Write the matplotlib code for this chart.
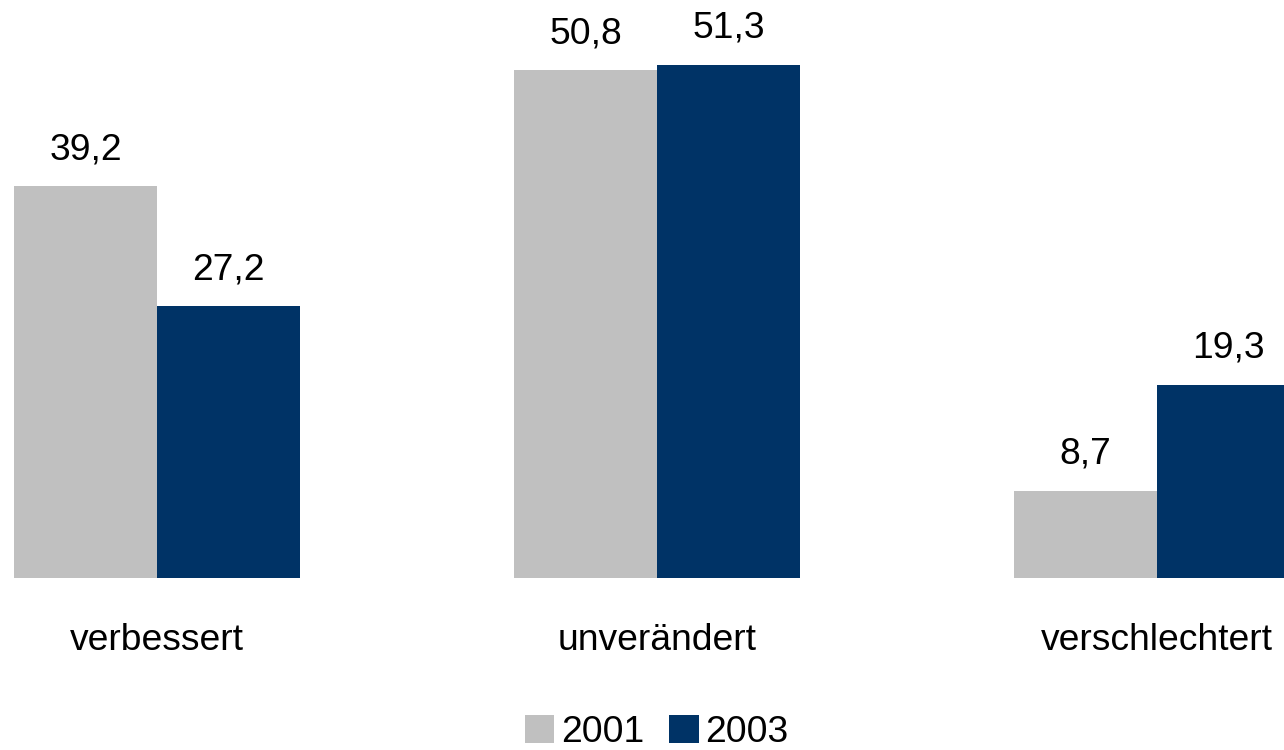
import matplotlib
matplotlib.use("Agg")
import matplotlib.pyplot as plt
from matplotlib.patches import Patch
import numpy as np

plt.rcParams['font.family'] = ['Liberation Sans', 'DejaVu Sans']

categories = ["verbessert", "unverändert", "verschlechtert"]
years = ["2001", "2003"]
v2001 = [39.2, 50.8, 8.7]
v2003 = [27.2, 51.3, 19.3]
colors = ["#C0C0C0", "#003366"]

fs = 26.8
fig = plt.figure(figsize=(12.84, 7.5), dpi=100)
ax = fig.add_axes([0, 172/750, 1, 578/750])

x = np.arange(len(categories))
w = 0.286
for k, vals in enumerate([v2001, v2003]):
    pos = x - w/2 + k*w
    ax.bar(pos, vals, width=w, color=colors[k], linewidth=0)
    for p, v in zip(pos, vals):
        ax.text(p, v + 2.7, f"{v:.1f}".replace(".", ","), ha="center",
                va="baseline", fontsize=fs)

for xi, c in zip(x, categories):
    ax.text(xi, -7.2, c, ha="center", va="baseline", fontsize=fs, clip_on=False)

ax.set_xlim(-0.314, 2.254)
ax.set_ylim(0, 57.8)
ax.axis("off")

handles = [Patch(facecolor=c, edgecolor="none") for c in colors]
fig.legend(handles, years, loc="lower center", bbox_to_anchor=(657/1284, 0.0),
           ncol=2, frameon=False, fontsize=fs, handlelength=0.78, handleheight=0.78,
           handletextpad=0.19, columnspacing=0.67, borderpad=0, borderaxespad=0)

fig.savefig("out.png", dpi=100, facecolor="white")
